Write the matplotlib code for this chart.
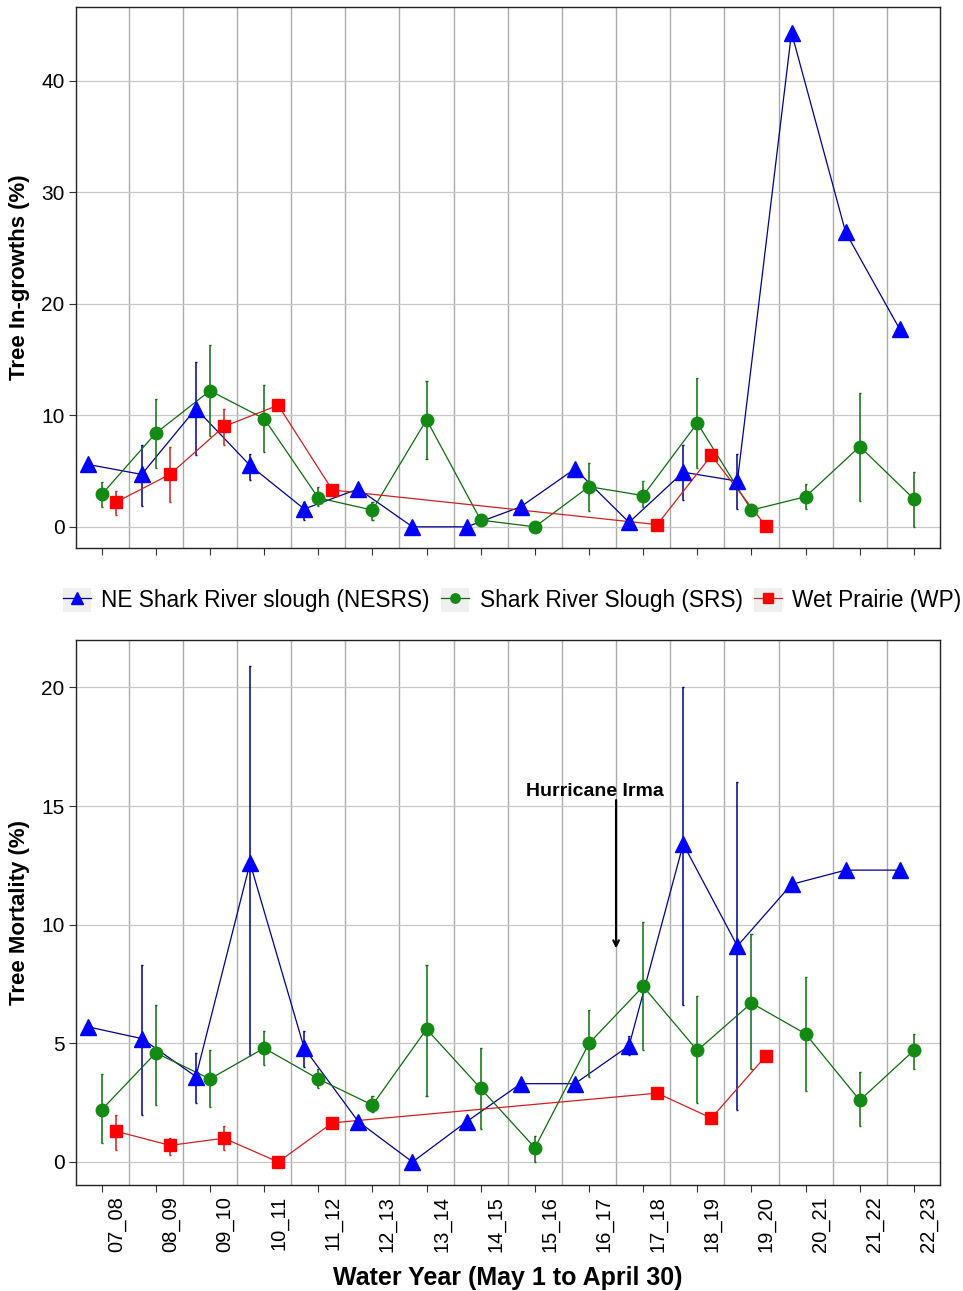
import numpy as np
import matplotlib
matplotlib.use("Agg")
import matplotlib.pyplot as plt
import matplotlib.transforms as mtrans
from matplotlib.lines import Line2D
from matplotlib.patches import Patch
from matplotlib.legend_handler import HandlerTuple

plt.rcParams['font.family'] = ['Liberation Sans', 'DejaVu Sans']

nan = np.nan

years = ['07_08', '08_09', '09_10', '10_11', '11_12', '12_13', '13_14', '14_15',
         '15_16', '16_17', '17_18', '18_19', '19_20', '20_21', '21_22', '22_23']

# Tree in-growths (%)
nesrs_in = [5.6, 4.7, 10.6, 5.5, 1.6, 3.4, 0.0, 0.0, 1.8, 5.2, 0.4, 4.9, 4.1, 44.3, 26.4, 17.7]
nesrs_in_lo = [nan, 1.9, 6.4, 4.2, 0.6, nan, nan, nan, nan, nan, nan, 2.4, 1.6, nan, nan, nan]
nesrs_in_hi = [nan, 7.3, 14.8, 6.5, 2.2, nan, nan, nan, nan, nan, nan, 7.3, 6.5, nan, nan, nan]
srs_in = [2.9, 8.4, 12.2, 9.7, 2.6, 1.5, 9.6, 0.6, 0.0, 3.6, 2.8, 9.3, 1.5, 2.7, 7.2, 2.5]
srs_in_lo = [1.8, 5.3, 8.1, 6.7, 1.9, 0.6, 6.1, nan, nan, 1.4, 1.8, 5.3, nan, 1.6, 2.3, 0.0]
srs_in_hi = [4.0, 11.5, 16.3, 12.7, 3.6, 2.2, 13.1, nan, nan, 5.7, 4.1, 13.3, nan, 3.8, 12.0, 4.9]
wp_in = [2.2, 4.7, 9.0, 10.9, 3.3, nan, nan, nan, nan, nan, 0.2, 6.4, 0.1, nan, nan, nan]
wp_in_lo = [1.1, 2.2, 7.3, nan, nan, nan, nan, nan, nan, nan, nan, nan, nan, nan, nan, nan]
wp_in_hi = [3.2, 7.2, 10.6, nan, nan, nan, nan, nan, nan, nan, nan, nan, nan, nan, nan, nan]

# Tree mortality (%)
nesrs_mo = [5.7, 5.2, 3.6, 12.6, 4.8, 1.7, 0.0, 1.7, 3.3, 3.3, 4.9, 13.4, 9.1, 11.7, 12.3, 12.3]
nesrs_mo_lo = [nan, 2.0, 2.5, 4.5, 4.0, nan, nan, nan, nan, nan, 4.5, 6.6, 2.2, nan, nan, nan]
nesrs_mo_hi = [nan, 8.3, 4.6, 20.9, 5.5, nan, nan, nan, nan, nan, 5.3, 20.0, 16.0, nan, nan, nan]
srs_mo = [2.2, 4.6, 3.5, 4.8, 3.5, 2.4, 5.6, 3.1, 0.6, 5.0, 7.4, 4.7, 6.7, 5.4, 2.6, 4.7]
srs_mo_lo = [0.8, 2.4, 2.3, 4.1, 3.1, 2.1, 2.8, 1.4, 0.0, 3.6, 4.7, 2.5, 3.9, 3.0, 1.5, 3.9]
srs_mo_hi = [3.7, 6.6, 4.7, 5.5, 3.9, 2.8, 8.3, 4.8, 1.1, 6.4, 10.1, 7.0, 9.6, 7.8, 3.8, 5.4]
wp_mo = [1.3, 0.7, 1.0, 0.0, 1.65, nan, nan, nan, nan, nan, 2.9, 1.85, 4.45, nan, nan, nan]
wp_mo_lo = [0.5, 0.3, 0.5, nan, nan, nan, nan, nan, nan, nan, nan, nan, nan, nan, nan, nan]
wp_mo_hi = [2.0, 1.0, 1.5, nan, nan, nan, nan, nan, nan, nan, nan, nan, nan, nan, nan, nan]

labels = ['NE Shark River slough (NESRS)', 'Shark River Slough (SRS)', 'Wet Prairie (WP)']
# (marker, marker colour, line colour, size, dodge)
styles = [('^', '#0000FF', '#00008B', 11, -0.26),
          ('o', '#138A13', '#0E6B0E', 9, 0.0),
          ('s', '#FF0000', '#D02020', 9, 0.26)]

x = np.arange(1, len(years) + 1)


def draw_panel(ax, series, yticks, ylim, ylabel):
    for (vals, lo, hi), (mk, mc, lc, ms, dx) in zip(series, styles):
        v = np.asarray(vals, float)
        lo = np.asarray(lo, float)
        hi = np.asarray(hi, float)
        xs = x + dx
        ok = ~np.isnan(v)
        ax.plot(xs[ok], v[ok], color=lc, lw=0.9, zorder=3)
        eb = ~np.isnan(lo)
        ax.vlines(xs[eb], lo[eb], hi[eb], color=lc, lw=1.1, zorder=3)
        ax.hlines(lo[eb], xs[eb] - 0.02, xs[eb] + 0.02, color=lc, lw=1.0, zorder=3)
        ax.hlines(hi[eb], xs[eb] - 0.02, xs[eb] + 0.02, color=lc, lw=1.0, zorder=3)
        ax.plot(xs[ok], v[ok], ls='none', marker=mk, ms=ms, color=mc,
                markeredgecolor=mc, zorder=4)
    ax.set_xlim(0.52, 16.48)
    ax.set_ylim(*ylim)
    ax.set_yticks(yticks)
    ax.set_xticks(x)
    ax.set_xticks(np.arange(1.5, 16), minor=True)
    ax.grid(which='minor', axis='x', color='#ABABAB', lw=1.0)
    ax.grid(which='major', axis='y', color='#C8C8C8', lw=0.9)
    ax.set_axisbelow(True)
    ax.tick_params(which='minor', length=0)
    ax.tick_params(which='major', length=5, color='#333333', labelsize=15, pad=3)
    for s in ax.spines.values():
        s.set_color('#222222')
        s.set_linewidth(1.0)
    ax.set_ylabel(ylabel, fontsize=16, fontweight='bold', labelpad=8)


fig = plt.figure(figsize=(9.63, 12.91), dpi=100)
ax1 = fig.add_axes([0.0786, 0.5755, 0.8974, 0.4191])
ax2 = fig.add_axes([0.0786, 0.0821, 0.8974, 0.4222])

draw_panel(ax1, [(nesrs_in, nesrs_in_lo, nesrs_in_hi),
                 (srs_in, srs_in_lo, srs_in_hi),
                 (wp_in, wp_in_lo, wp_in_hi)],
           [0, 10, 20, 30, 40], (-1.9, 46.6), 'Tree In-growths (%)')
ax1.set_xticklabels([])

draw_panel(ax2, [(nesrs_mo, nesrs_mo_lo, nesrs_mo_hi),
                 (srs_mo, srs_mo_lo, srs_mo_hi),
                 (wp_mo, wp_mo_lo, wp_mo_hi)],
           [0, 5, 10, 15, 20], (-0.97, 22.0), 'Tree Mortality (%)')
ax2.set_xticklabels(years, rotation=90, fontsize=14.5)
shift = mtrans.ScaledTranslation(0.15, 0, fig.dpi_scale_trans)
for lab in ax2.get_xticklabels():
    lab.set_transform(lab.get_transform() + shift)
ax2.set_xlabel('Water Year (May 1 to April 30)', fontsize=18, fontweight='bold')
ax2.xaxis.set_label_coords(0.5, -0.148)

# hurricane marker: label plus a straight arrow at the 16_17 / 17_18 boundary
ax2.text(10.1, 15.6, 'Hurricane Irma', ha='center', va='center', fontsize=14,
         fontweight='bold', zorder=5)
ax2.annotate('', xy=(10.5, 9.0), xytext=(10.5, 15.25),
             arrowprops=dict(arrowstyle='->', color='black', lw=1.6,
                             shrinkA=0, shrinkB=0))

handles = [(Patch(facecolor='#EFEFEF', edgecolor='none'),
            Line2D([0], [0], color=lc, lw=0.9, marker=mk, ms=ms * 0.75,
                   markerfacecolor=mc, markeredgecolor=mc))
           for (mk, mc, lc, ms, dx) in styles]
fig.legend(handles, labels, loc='center', bbox_to_anchor=(0.532, 0.5352), ncol=3,
           frameon=False, fontsize=16.3, handlelength=1.25, handleheight=1.25,
           handletextpad=0.45, columnspacing=0.5,
           handler_map={tuple: HandlerTuple(ndivide=1)})

fig.savefig('out.png', dpi=100)
